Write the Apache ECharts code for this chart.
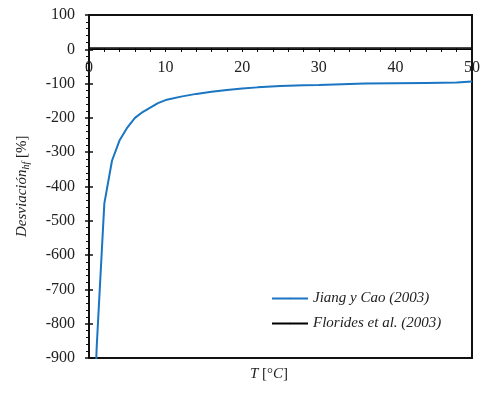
<!DOCTYPE html>
<html>
<head>
<meta charset="utf-8">
<script src="https://cdn.jsdelivr.net/npm/echarts@6/dist/echarts.min.js"></script>
<style>
html,body{margin:0;padding:0;background:#fff;}
#main{width:484px;height:396px;}
</style>
</head>
<body>
<div id="main"></div>
<script>
var seriesNames = ['Jiang y Cao (2003)', 'Florides et al. (2003)'];
// T [°C]
var tJiang = [0.8, 1, 2, 3, 4, 5, 6, 7, 8, 9, 10, 12, 14, 16, 18, 20, 22, 25, 28, 30, 33, 36, 40, 44, 48, 50];
var devJiang = [-1000, -870, -450, -325, -265, -228, -200, -183, -170, -157, -148, -138, -130, -124, -119, -114, -111, -107, -105, -104, -102, -100, -99, -98, -97, -94];
var tFlorides = [0, 1, 2, 5, 10, 20, 30, 40, 50];
var devFlorides = [0, 1, 0, 0, 0, 0, 0, 0, 0];
var yTicks = [-900, 100, 100];
var xTicks = [0, 50, 2];

function pairs(xs, ys){
	var out = [];
	for (var i = 0; i < xs.length; i++) out.push([xs[i], ys[i]]);
	return out;
}

var serif = 'Liberation Serif';
var myChart = echarts.init(document.getElementById('main'));
var option = {
	backgroundColor : '#fff',
	animation : false,
	grid : [{
		left : 89, right : 12, top : 15, bottom : 38,
		show : true,
		borderColor : '#111',
		borderWidth : 2
	}, {
		// upper band only, so its bottom edge sits on y = 0
		left : 89, right : 12, top : 15, bottom : 348,
		show : false
	}],
	legend : {
		orient : 'vertical',
		left : 266,
		top : 286,
		itemWidth : 36,
		itemHeight : 2,
		itemGap : 10,
		textStyle : { fontFamily : serif, fontStyle : 'italic', fontSize : 15, color : '#222' },
		data : seriesNames
	},
	xAxis : [{
		type : 'value',
		gridIndex : 0,
		min : xTicks[0], max : xTicks[1], interval : xTicks[2],
		show : false
	}, {
		type : 'value',
		gridIndex : 1,
		min : xTicks[0], max : xTicks[1], interval : xTicks[2],
		position : 'bottom',
		axisLine : { onZero : false, lineStyle : { color : '#111', width : 1.5 } },
		axisTick : { show : true, length : 4, lineStyle : { color : '#111', width : 1 } },
		axisLabel : {
			margin : 12,
			fontFamily : serif, fontSize : 16, color : '#222',
			formatter : function(v){ return v % 10 === 0 ? String(v) : ''; }
		},
		splitLine : { show : false }
	}],
	yAxis : [{
		type : 'value',
		gridIndex : 0,
		min : yTicks[0], max : yTicks[1], interval : yTicks[2],
		axisLine : { show : true, onZero : false, lineStyle : { color : '#111', width : 2 } },
		axisTick : { show : true, length : 4, lineStyle : { color : '#111', width : 1.5 } },
		minorTick : { show : true, splitNumber : 5, length : 3, lineStyle : { color : '#111', width : 1 } },
		axisLabel : { margin : 14, fontFamily : serif, fontSize : 16, color : '#222' },
		splitLine : { show : false }
	}, {
		type : 'value',
		gridIndex : 0,
		position : 'left',
		min : yTicks[0], max : yTicks[1], interval : yTicks[2],
		axisLine : { show : false, onZero : false },
		axisTick : { show : true, inside : true, length : 4, lineStyle : { color : '#111', width : 1.5 } },
		axisLabel : { show : false },
		splitLine : { show : false }
	}, {
		type : 'value',
		gridIndex : 1,
		min : 0, max : 100,
		show : false
	}],
	graphic : [{
		type : 'text',
		left : 250, top : 367,
		style : {
			text : '{i|T} [°{i|C}]',
			font : '15px ' + serif,
			fill : '#222',
			rich : { i : { fontFamily : serif, fontStyle : 'italic', fontSize : 15, fill : '#222' } }
		}
	}, {
		type : 'text',
		x : 13, y : 237,
		rotation : Math.PI / 2,
		style : {
			text : '{i|Desviación}{s|hf} [%]',
			font : '15px ' + serif,
			fill : '#222',
			rich : {
				i : { fontFamily : serif, fontStyle : 'italic', fontSize : 15, fill : '#222', lineHeight : 18 },
				s : { fontFamily : serif, fontStyle : 'italic', fontSize : 10, fill : '#222', verticalAlign : 'bottom', padding : [6, 0, 0, 0] }
			}
		}
	}],
	series : [{
		name : seriesNames[0],
		type : 'line',
		xAxisIndex : 0, yAxisIndex : 0,
		symbol : 'none',
		clip : true,
		lineStyle : { color : '#1a75c2', width : 2 },
		itemStyle : { color : '#1a75c2' },
		data : pairs(tJiang, devJiang)
	}, {
		name : seriesNames[1],
		type : 'line',
		xAxisIndex : 0, yAxisIndex : 0,
		symbol : 'none',
		clip : true,
		lineStyle : { color : '#000', width : 1.5 },
		itemStyle : { color : '#000' },
		data : pairs(tFlorides, devFlorides)
	}]
};
myChart.setOption(option, true);
</script>
</body>
</html>
